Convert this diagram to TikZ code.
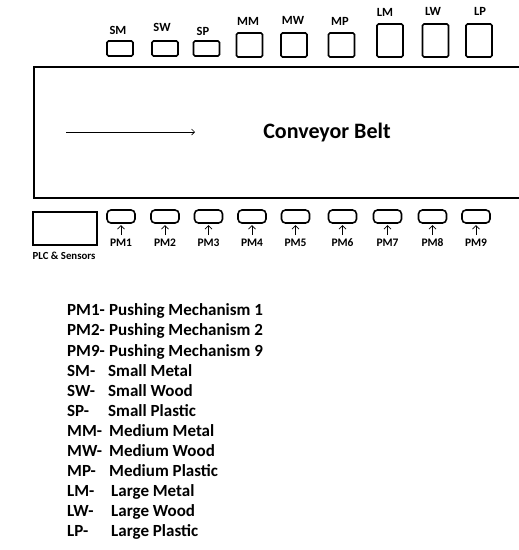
\documentclass[tikz,border=0pt]{standalone}
\usepackage{fontspec}
\setmainfont{Carlito}
\usetikzlibrary{arrows.meta}
\begin{document}
\begin{tikzpicture}[x=1pt,y=-1pt,
  binbox/.style={draw=black, line width=1.6pt, rounded corners=1.5pt, inner sep=0pt, minimum width=26pt},
  pmbox/.style={draw=black, line width=1.6pt, rounded corners=4pt, inner sep=0pt, minimum width=28pt, minimum height=13pt},
  toplbl/.style={font=\fontsize{12.5}{12.5}\selectfont\bfseries, inner sep=0pt},
  pmlbl/.style={font=\fontsize{11.5}{11.5}\selectfont\bfseries, inner sep=0pt},
  plclbl/.style={font=\fontsize{10.8}{10.8}\selectfont\bfseries, inner sep=0pt},
  legend/.style={font=\fontsize{17}{17}\selectfont\bfseries, inner sep=0pt, anchor=mid west},
  thinarrow/.style={draw=black, line width=0.7pt, -{Straight Barb[length=3pt,width=6pt]}},
  uparrow/.style={draw=black, line width=0.8pt, -{Straight Barb[length=3.5pt,width=7pt]}}
]
\useasboundingbox (0,0) rectangle (519,550);
\fill[white] (0,0) rectangle (519,550);

% top bins
\node[binbox, minimum height=15pt] (sm) at (120,48.5) {};
\node[binbox, minimum height=15pt] (sw) at (165,48.5) {};
\node[binbox, minimum height=15pt] (sp) at (206.5,48.5) {};
\node[binbox, minimum height=24pt] (mm) at (249.5,45) {};
\node[binbox, minimum height=24pt] (mw) at (294,45) {};
\node[binbox, minimum height=24pt] (mp) at (341.5,45) {};
\node[binbox, minimum height=33pt] (lm) at (390,40.5) {};
\node[binbox, minimum height=33pt] (lw) at (435.5,40.5) {};
\node[binbox, minimum height=33pt] (lp) at (479,40.5) {};

\node[toplbl] (tsm) at (118,30) {SM};
\node[toplbl] (tsw) at (162,27) {SW};
\node[toplbl] (tsp) at (203,31) {SP};
\node[toplbl] (tmm) at (248,21) {MM};
\node[toplbl] (tmw) at (293,20) {MW};
\node[toplbl] (tmp) at (340,21) {MP};
\node[toplbl] (tlm) at (385,12) {LM};
\node[toplbl] (tlw) at (433,11) {LW};
\node[toplbl] (tlp) at (480,11) {LP};

% conveyor belt
\node[draw=black, line width=1.8pt, minimum width=510pt, minimum height=131pt, inner sep=0pt, anchor=north west] (belt) at (33,66) {};
\node[font=\fontsize{22}{22}\selectfont\bfseries, inner sep=0pt] (beltlbl) at (327,133) {Conveyor Belt};
\coordinate (d1) at (66,132);
\coordinate (d2) at (195,132);
\draw[thinarrow] (d1) -- (d2);

% PLC
\node[draw=black, line width=1.6pt, minimum width=64pt, minimum height=33pt, inner sep=0pt] (plc) at (65,228.5) {};
\node[plclbl] (plctext) at (64,256) {PLC \& Sensors};

% pushing mechanisms
\foreach \i/\x in {1/121,2/165,3/208.5,4/252,5/295.5,6/342.5,7/387.5,8/432.5,9/476}{
  \node[pmbox] (pm\i) at (\x,216.5) {};
  \node[pmlbl] (pml\i) at (\x,243) {PM\i};
  \coordinate (pa\i) at (\x,235);
  \draw[uparrow] (pa\i) -- (pm\i.south |- 0,225);
}

% legend
\foreach \k/\a/\b/\bx in {0/PM1-/Pushing Mechanism 1/109,
                          1/PM2-/Pushing Mechanism 2/109,
                          2/PM9-/Pushing Mechanism 9/109,
                          3/SM-/Small Metal/108,
                          4/SW-/Small Wood/108,
                          5/SP-/Small Plastic/108,
                          6/MM-/Medium Metal/109,
                          7/MW-/Medium Wood/109,
                          8/MP-/Medium Plastic/109,
                          9/LM-/Large Metal/111,
                          10/LW-/Large Wood/111,
                          11/LP-/Large Plastic/111}{
  \node[legend] (la\k) at (67,{313.5+20.1*\k}) {\a};
  \node[legend] (lb\k) at (\bx,{313.5+20.1*\k}) {\b};
}
\end{tikzpicture}
\end{document}
